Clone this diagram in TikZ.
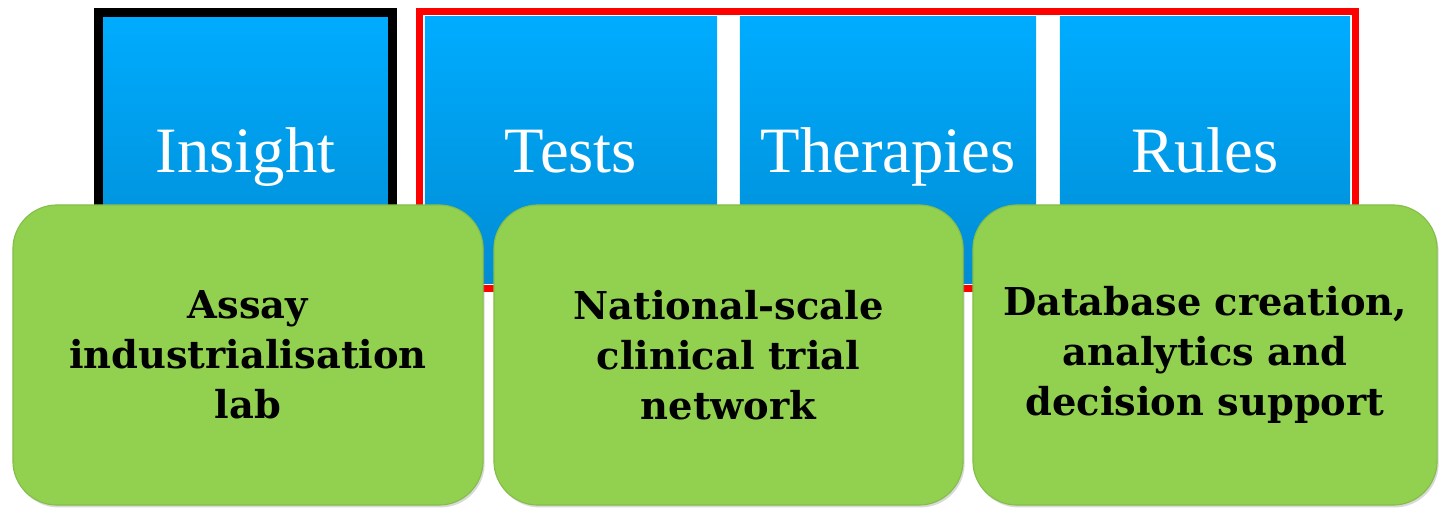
\documentclass[tikz,border=0pt]{standalone}
\usepackage{fontspec}
\setmainfont{Liberation Serif}
\newfontfamily\greenfont{DejaVu Serif}
\usetikzlibrary{fit,shadows}

\definecolor{blueTop}{RGB}{0,172,255}
\definecolor{blueBot}{RGB}{0,140,212}
\definecolor{boxGreen}{RGB}{146,208,80}
\definecolor{rimGreen}{RGB}{132,190,72}

\tikzset{
    topic/.style={rectangle, inner sep=0pt, top color=blueTop, bottom color=blueBot,
        minimum height=6.65cm, text=white, font=\fontsize{46}{55}\selectfont,
        text height=40pt, text depth=7.3pt},
    capability/.style={rectangle, rounded corners=1.1cm, fill=boxGreen, draw=rimGreen,
        line width=0.8pt, minimum width=11.7cm, minimum height=7.5cm, align=center,
        drop shadow={opacity=0.3, shadow xshift=0.04cm, shadow yshift=-0.06cm},
        font=\greenfont\bfseries\fontsize{27.3}{35.6}\selectfont}
}

\begin{document}
\begin{tikzpicture}[x=0.025cm, y=-0.025cm]
    \useasboundingbox (0,0) rectangle (1439,507);

    % blue topics
    \node[topic, draw=black, line width=0.225cm, minimum width=7.35cm, minimum height=6.8625cm] (insight) at (245.5, 149.75) {Insight};
    \node[topic, minimum width=7.3cm] (tests) at (571, 150) {Tests};
    \node[topic, minimum width=7.4cm] (therapies) at (888, 150) {Therapies};
    \node[topic, minimum width=7.25cm] (rules) at (1205, 150) {Rules};
    \node[draw=red, line width=0.175cm, inner sep=0.125cm, fit=(tests)(therapies)(rules)] (frame) {};

    % green capabilities
    \node[capability, minimum width=11.75cm] (assay) at (248, 355) {Assay\\industrialisation\\lab};
    \node[capability, minimum width=11.725cm] (trial) at (728.5, 355) {National-scale\\clinical trial\\network};
    \node[capability, minimum width=11.6cm] (data) at (1205, 355) {Database creation,\\analytics and\\decision support};
\end{tikzpicture}
\end{document}
